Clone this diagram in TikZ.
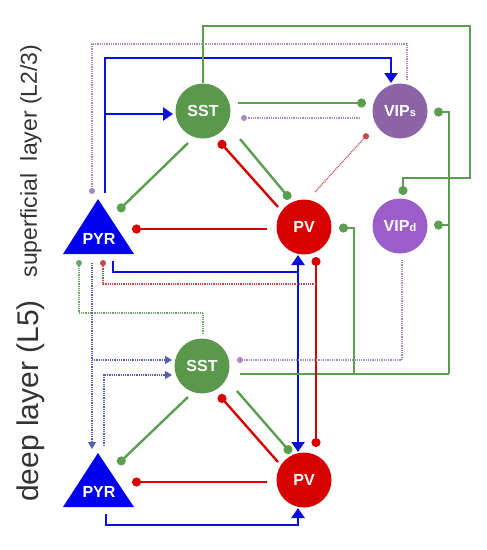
\documentclass[tikz,border=0pt]{standalone}
\usepackage{fontspec}
\setmainfont{Liberation Sans}
\usetikzlibrary{arrows.meta}
\definecolor{sstgreen}{HTML}{5A984C}
\definecolor{lgreen}{HTML}{5C9E50}
\definecolor{pvred}{HTML}{D60000}
\definecolor{pyrblue}{HTML}{0000EE}
\definecolor{lblue}{HTML}{0A10DC}
\definecolor{vipspurple}{HTML}{8C63A6}
\definecolor{vipdpurple}{HTML}{9C5DC9}
\definecolor{dpurple}{HTML}{A88AC8}
\definecolor{dred}{HTML}{C84848}
\definecolor{dgreen}{HTML}{6AA86A}
\definecolor{dblue}{HTML}{5560B0}
\begin{document}
\begin{tikzpicture}[x=1pt,y=-1pt,
  cell/.style={circle,minimum size=55pt,inner sep=0pt,text=white,font=\fontsize{16}{16}\selectfont\bfseries},
  pyrtext/.style={text=white,font=\fontsize{16}{16}\selectfont\bfseries,inner sep=0pt},
  excit/.style={line width=2.6pt,draw=lblue,-{Triangle[width=13pt,length=10pt]}},
  blueline/.style={line width=2.6pt,draw=lblue},
  inhg/.style={line width=2.4pt,draw=lgreen,-{Circle[length=9pt]}},
  greenline/.style={line width=2.4pt,draw=lgreen},
  inhr/.style={line width=2.4pt,draw=pvred,-{Circle[length=9pt]}},
  dotl/.style={line width=1.3pt,dash pattern=on 0.9pt off 0.9pt},
  ddot/.style={-{Circle[length=6pt]}},
  darrow/.style={-{Triangle[width=8pt,length=7pt]}},
  lbl/.style={rotate=90,text=black!80,inner sep=0pt}
]
\useasboundingbox (0,0) rectangle (487,550);

% labels
\node[lbl,font=\fontsize{23}{23}\selectfont] (labsup) at (31,161) {superficial\ \ layer (L2/3)};
\node[lbl,font=\fontsize{30}{30}\selectfont] (labdeep) at (31,401) {deep layer (L5)};

% neurons
\node[cell,fill=sstgreen] (sstA) at (203,111) {SST};
\node[cell,fill=vipspurple] (vips) at (400,111) {VIP{\fontsize{11}{11}\selectfont s}};
\node[cell,fill=pvred] (pvA) at (304,227) {PV};
\node[cell,fill=vipdpurple] (vipd) at (400,226) {VIP{\fontsize{11}{11}\selectfont d}};
\fill[pyrblue] (98,199) -- (134,254) -- (63,254) -- cycle;
\node[pyrtext] (pyrA) at (99,239) {PYR};
\node[cell,fill=sstgreen] (sstB) at (202,366) {SST};
\node[cell,fill=pvred] (pvB) at (304,480) {PV};
\fill[pyrblue] (98,453) -- (134,507) -- (63,507) -- cycle;
\node[pyrtext] (pyrB) at (99,492) {PYR};

% waypoints
\coordinate (pAup) at (105,193);
\coordinate (b1a) at (105,58);
\coordinate (b1b) at (391,58);
\coordinate (b1end) at (391,83);
\coordinate (b2a) at (105,114);
\coordinate (b2end) at (173,114);
\coordinate (pAdn) at (113,261);
\coordinate (b3a) at (113,272);
\coordinate (b3b) at (298,272);
\coordinate (b3up) at (298,255);
\coordinate (b3dn) at (298,452);
\coordinate (pBdn) at (106,514);
\coordinate (b4a) at (106,525);
\coordinate (b4b) at (298,525);
\coordinate (b4end) at (298,508);

% excitatory (blue)
\draw[excit] (pAup) -- (b1a) -- (b1b) -- (b1end);
\draw[excit] (b2a) -- (b2end);
\draw[blueline] (pAdn) -- (b3a) -- (b3b);
\draw[excit] (b3b) -- (b3up);
\draw[excit] (b3b) -- (b3dn);
\draw[excit] (pBdn) -- (b4a) -- (b4b) -- (b4end);

% green (SST) inhibition
\coordinate (g1a) at (203,26);
\coordinate (g1b) at (470,26);
\coordinate (g1c) at (470,178);
\coordinate (g1d) at (403,178);
\coordinate (g1end) at (403,195);
\draw[inhg] (sstA.north) -- (g1a) -- (g1b) -- (g1c) -- (g1d) -- (g1end);
\draw[inhg] (238,103) -- (366,103);
\draw[inhg] (188,143) -- (118,211);
\draw[inhg] (240,139) -- (290,199);
\coordinate (g5a) at (240,374);
\coordinate (g5b) at (449,374);
\coordinate (g5c) at (449,112);
\coordinate (g5d) at (449,225);
\coordinate (g5e) at (354,374);
\coordinate (g5f) at (354,228);
\draw[greenline] (g5a) -- (g5b);
\draw[inhg] (g5b) -- (g5c) -- (434,112);
\draw[inhg] (g5d) -- (434,225);
\draw[inhg] (g5e) -- (g5f) -- (339,228);
\draw[inhg] (188,397) -- (118,464);
\draw[inhg] (237,391) -- (291,453);

% red (PV) inhibition
\draw[inhr] (278,207) -- (219,141);
\draw[inhr] (267,229) -- (132,229);
\draw[inhr, {Circle[length=9pt]}-{Circle[length=9pt]}] (316,257) -- (316,447);
\draw[inhr] (278,462) -- (219,395);
\draw[inhr] (267,482) -- (132,482);

% dotted projections
\draw[dotl,dpurple,ddot] (360,118) -- (241,118);
\draw[dotl,dpurple,ddot] (407,80) -- (407,44) -- (92,44) -- (92,194);
\draw[dotl,dred,ddot] (315,192) -- (368,134);
\draw[dotl,dred,ddot] (316,284) -- (103,284) -- (103,260);
\draw[dotl,dgreen,ddot] (203,334) -- (203,313) -- (79,313) -- (79,260);
\draw[dotl,dblue,darrow] (92,263) -- (92,449);
\draw[dotl,dblue,darrow] (92,360) -- (172,360);
\draw[dotl,dblue,darrow] (104,446) -- (104,375) -- (172,375);
\draw[dotl,dpurple,ddot] (402,260) -- (402,360) -- (237,360);
\end{tikzpicture}
\end{document}
